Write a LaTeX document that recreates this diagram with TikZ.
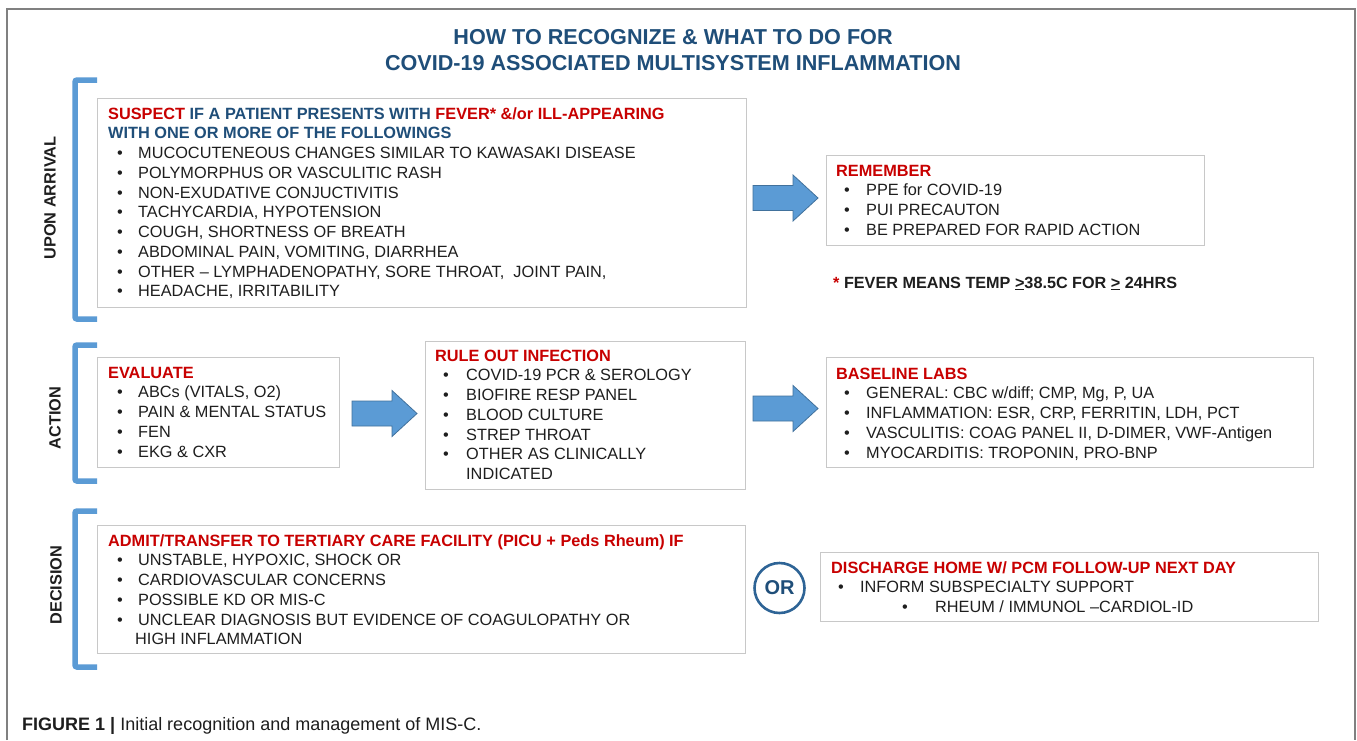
\documentclass[tikz,border=0pt]{standalone}
\usepackage{fontspec}
\setmainfont{Liberation Sans}
\definecolor{redc}{RGB}{200,0,0}
\definecolor{bluec}{RGB}{31,78,121}
\definecolor{bodyc}{RGB}{30,30,30}
\definecolor{boxgray}{RGB}{200,200,200}
\definecolor{brkc}{RGB}{91,155,213}
\definecolor{arredge}{RGB}{65,113,156}
\definecolor{orc}{RGB}{46,100,150}
\definecolor{framec}{RGB}{128,128,128}
\newcommand\mybul[3]{\hspace*{#1pt}\makebox[#2pt][l]{\textbullet}#3}
\newcommand\fstrut{\rule{0pt}{12.5pt}}
\begin{document}
\begin{tikzpicture}[x=1pt,y=-1pt,
  box/.style={draw=boxgray, line width=1.3pt, fill=white, inner sep=0, anchor=north west},
  txt/.style={anchor=north west, inner sep=0, align=left, text=bodyc, font=\fontsize{16.3}{19.75}\selectfont},
  brk/.style={draw=brkc, line width=5.5pt, rounded corners=2pt},
  side/.style={rotate=90, inner sep=0, text=bodyc, font=\bfseries\fontsize{16.3}{19}\selectfont},
  blockarrow/.pic={\draw[fill=brkc, draw=arredge, line width=0.8pt] (0,-12.5) -- (40,-12.5) -- (40,-23) -- (65,0) -- (40,23) -- (40,12.5) -- (0,12.5) -- cycle;}
]
\useasboundingbox (0,0) rectangle (1357,740);
\fill[white] (0,0) rectangle (1357,740);
% frame
\draw[framec, line width=2pt] (7,740) -- (7,9) -- (1355,9) -- (1355,740);
% title
\node[anchor=base, inner sep=0, text=bluec, font=\bfseries\fontsize{21.6}{26}\selectfont] (title1) at (673,44) {HOW TO RECOGNIZE \& WHAT TO DO FOR};
\node[anchor=base, inner sep=0, text=bluec, font=\bfseries\fontsize{21.6}{26}\selectfont] (title2) at (673,70) {COVID-19 ASSOCIATED MULTISYSTEM INFLAMMATION};
% brackets
\draw[brk] (97,80) -- (75,80) -- (75,319) -- (97,319);
\draw[brk] (97,345) -- (75,345) -- (75,481) -- (97,481);
\draw[brk] (97,511) -- (75,511) -- (75,667) -- (97,667);
\node[side] (lab1) at (50,198) {UPON ARRIVAL};
\node[side] (lab2) at (55,418) {ACTION};
\node[side] (lab3) at (56,585) {DECISION};
% boxes
\node[box, minimum width=649pt, minimum height=209pt] (suspect) at (97,98) {};
\node[box, minimum width=378pt, minimum height=90pt] (remember) at (826,155) {};
\node[box, minimum width=242pt, minimum height=110pt] (evaluate) at (97,357) {};
\node[box, minimum width=320pt, minimum height=148pt] (ruleout) at (425,341) {};
\node[box, minimum width=487pt, minimum height=110pt] (labs) at (826,357) {};
\node[box, minimum width=648pt, minimum height=128pt] (admit) at (97,525) {};
\node[box, minimum width=498pt, minimum height=69pt] (discharge) at (820,552) {};
% texts
\node[txt] (t1) at ([shift={(11,8.5)}]suspect.north west) {%
{\bfseries\fstrut\textcolor{redc}{SUSPECT} \textcolor{bluec}{IF A PATIENT PRESENTS WITH} \textcolor{redc}{FEVER* \&/or ILL-APPEARING}}\\
{\bfseries\color{bluec}WITH ONE OR MORE OF THE FOLLOWINGS}\\
\mybul{9}{21}{MUCOCUTENEOUS CHANGES SIMILAR TO KAWASAKI DISEASE}\\
\mybul{9}{21}{POLYMORPHUS OR VASCULITIC RASH}\\
\mybul{9}{21}{NON-EXUDATIVE CONJUCTIVITIS}\\
\mybul{9}{21}{TACHYCARDIA, HYPOTENSION}\\
\mybul{9}{21}{COUGH, SHORTNESS OF BREATH}\\
\mybul{9}{21}{ABDOMINAL PAIN, VOMITING, DIARRHEA}\\
\mybul{9}{21}{OTHER – LYMPHADENOPATHY, SORE THROAT,\ \ JOINT PAIN,}\\
\mybul{9}{21}{HEADACHE, IRRITABILITY}};
\node[txt] (t2) at ([shift={(10,8.5)}]remember.north west) {%
{\bfseries\fstrut\color{redc}REMEMBER}\\
\mybul{8}{22}{PPE for COVID-19}\\
\mybul{8}{22}{PUI PRECAUTON}\\
\mybul{8}{22}{BE PREPARED FOR RAPID ACTION}};
\node[txt] (t3) at ([shift={(11,8.5)}]evaluate.north west) {%
{\bfseries\fstrut\color{redc}EVALUATE}\\
\mybul{9}{21}{ABCs (VITALS, O2)}\\
\mybul{9}{21}{PAIN \& MENTAL STATUS}\\
\mybul{9}{21}{FEN}\\
\mybul{9}{21}{EKG \& CXR}};
\node[txt] (t4) at ([shift={(10,7.5)}]ruleout.north west) {%
{\bfseries\fstrut\color{redc}RULE OUT INFECTION}\\
\mybul{8}{23}{COVID-19 PCR \& SEROLOGY}\\
\mybul{8}{23}{BIOFIRE RESP PANEL}\\
\mybul{8}{23}{BLOOD CULTURE}\\
\mybul{8}{23}{STREP THROAT}\\
\mybul{8}{23}{OTHER AS CLINICALLY}\\
\hspace*{31pt}INDICATED};
\node[txt] (t5) at ([shift={(10,9.5)}]labs.north west) {%
{\bfseries\fstrut\color{redc}BASELINE LABS}\\
\mybul{8}{22}{GENERAL: CBC w/diff; CMP, Mg, P, UA}\\
\mybul{8}{22}{INFLAMMATION: ESR, CRP, FERRITIN, LDH, PCT}\\
\mybul{8}{22}{VASCULITIS: COAG PANEL II, D-DIMER, VWF-Antigen}\\
\mybul{8}{22}{MYOCARDITIS: TROPONIN, PRO-BNP}};
\node[txt] (t6) at ([shift={(11,8.5)}]admit.north west) {%
{\bfseries\fstrut\color{redc}ADMIT/TRANSFER TO TERTIARY CARE FACILITY (PICU + Peds Rheum) IF}\\
\mybul{9}{21}{UNSTABLE, HYPOXIC, SHOCK OR}\\
\mybul{9}{21}{CARDIOVASCULAR CONCERNS}\\
\mybul{9}{21}{POSSIBLE KD OR MIS-C}\\
\mybul{9}{21}{UNCLEAR DIAGNOSIS BUT EVIDENCE OF COAGULOPATHY OR}\\
\hspace*{27pt}HIGH INFLAMMATION};
\node[txt] (t7) at ([shift={(11,8.5)}]discharge.north west) {%
{\bfseries\fstrut\color{redc}DISCHARGE HOME W/ PCM FOLLOW-UP NEXT DAY}\\
\mybul{7}{22}{INFORM SUBSPECIALTY SUPPORT}\\
\mybul{71}{33}{RHEUM / IMMUNOL –CARDIOL-ID}};
% block arrows
\pic (ar1) at (753,198) {blockarrow};
\pic (ar2) at (352,413.5) {blockarrow};
\pic (ar3) at (753,408.5) {blockarrow};
% OR circle
\node[circle, draw=orc, line width=2.6pt, minimum size=50pt, inner sep=0, text=bluec, font=\bfseries\fontsize{20}{22}\selectfont] (or) at (779.5,588) {OR};
% fever note
\node[anchor=base west, inner sep=0, text=bodyc, font=\bfseries\fontsize{16.2}{19}\selectfont] (fever) at (833,288) {\textcolor{redc}{*} FEVER MEANS TEMP \underline{>}38.5C FOR \underline{>} 24HRS};
% caption
\node[anchor=base west, inner sep=0, text=bodyc, font=\fontsize{18}{20}\selectfont] (cap) at (22,730) {\textbf{FIGURE 1 |} Initial recognition and management of MIS-C.};
\end{tikzpicture}
\end{document}
